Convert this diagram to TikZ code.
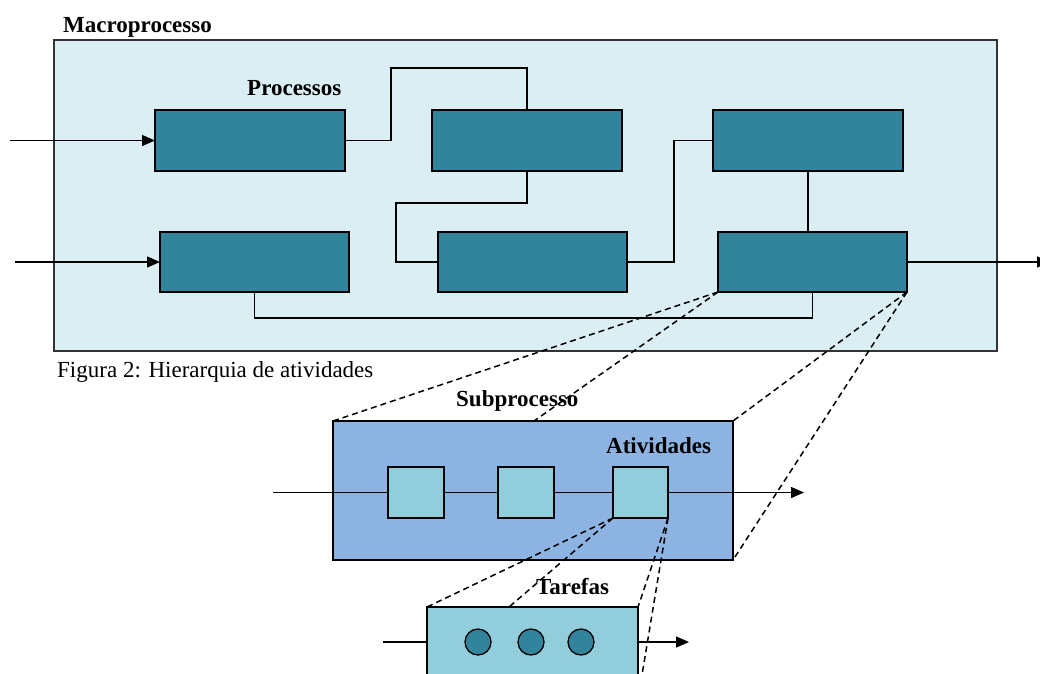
\documentclass[tikz,border=0pt]{standalone}
\usepackage{fontspec}
\setmainfont{Liberation Serif}
\usetikzlibrary{arrows.meta}
\definecolor{macrobg}{HTML}{DAEEF3}
\definecolor{procfill}{HTML}{31849B}
\definecolor{subbg}{HTML}{8DB3E2}
\definecolor{actbg}{HTML}{92CDDC}
\definecolor{frame}{HTML}{333333}
\begin{document}
\begin{tikzpicture}[x=1pt,y=-1pt,
  box/.style={draw=black, line width=1.5pt, inner sep=0pt, outer sep=0pt, anchor=north west},
  procbox/.style={box, fill=procfill},
  actbox/.style={box, fill=actbg, minimum height=51pt},
  task/.style={circle, draw=black, line width=1.3pt, fill=procfill, minimum size=26pt, inner sep=0pt},
  conn/.style={draw=black, line width=1.4pt},
  arr/.style={conn, -{Triangle[length=13pt,width=11pt]}},
  zoomline/.style={draw=black, line width=1.5pt, dash pattern=on 6pt off 4pt},
  lbl/.style={anchor=base west, inner sep=0pt, font=\fontsize{23}{27}\selectfont\bfseries},
  captxt/.style={anchor=base west, inner sep=0pt, font=\fontsize{23}{27}\selectfont}
]
\useasboundingbox (0,0) rectangle (1040,673);
\clip (0,0) rectangle (1040,673);
\fill[white] (0,0) rectangle (1040,673);

% Macroprocesso
\node[box, draw=frame, fill=macrobg, minimum width=943pt, minimum height=311pt] (macro) at (54,40) {};
\node[lbl] (tmacro) at (63,32) {Macroprocesso};
\node[lbl] (tproc) at (247,95) {Processos};
\node[captxt] (tfig) at (57,377) {Figura 2: Hierarquia de atividades};

\node[procbox, minimum width=190pt, minimum height=61pt] (A1) at (155,110) {};
\node[procbox, minimum width=190pt, minimum height=61pt] (A2) at (432,110) {};
\node[procbox, minimum width=190pt, minimum height=61pt] (A3) at (713,110) {};
\node[procbox, minimum width=189pt, minimum height=60pt] (B1) at (160,232) {};
\node[procbox, minimum width=189pt, minimum height=60pt] (B2) at (438,232) {};
\node[procbox, minimum width=189pt, minimum height=60pt] (B3) at (718,232) {};

\coordinate (in1) at (10,140.5);
\coordinate (in2) at (15,262);
\coordinate (out1) at (1050,262);

\draw[arr] (in1) -- (A1.west);
\draw[arr] (in2) -- (B1.west);
\draw[conn] (A1.east) -| (391,68) -| (A2.north);
\draw[conn] (A2.south) |- (396,203) |- (B2.west);
\draw[conn] (B2.east) -- ++(47,0) |- (A3.west);
\draw[conn] (A3.south) -- (A3.south |- B3.north);
\draw[conn] (B3.south) -- ++(0,26) -| (B1.south);
\draw[arr] (B3.east) -- (out1);

% Subprocesso
\node[box, fill=subbg, minimum width=400pt, minimum height=139pt] (sub) at (333,421) {};
\node[lbl] (tsub) at (456,406) {Subprocesso};
\node[lbl] (tact) at (606,453) {Atividades};
\node[actbox, minimum width=56pt] (act1) at (388,467) {};
\node[actbox, minimum width=56pt] (act2) at (498,467) {};
\node[actbox, minimum width=55pt] (act3) at (613,467) {};
\coordinate (sin) at (273,492.5);
\coordinate (sout) at (804,492.5);
\draw[conn] (sin) -- (act1.west);
\draw[conn] (act1.east) -- (act2.west);
\draw[conn] (act2.east) -- (act3.west);
\draw[arr] (act3.east) -- (sout);

% Tarefas
\node[box, fill=actbg, minimum width=211pt, minimum height=92pt] (tar) at (427,607) {};
\node[lbl] (ttar) at (536,594) {Tarefas};
\node[task] (c1) at (478,642) {};
\node[task] (c2) at (531,642) {};
\node[task] (c3) at (581,642) {};
\coordinate (tin) at (383,642);
\coordinate (tout) at (689,642);
\draw[conn] (tin) -- (tin -| tar.west);
\draw[arr] (tin -| tar.east) -- (tout);

% zoom lines
\coordinate (subm) at (534,421);
\coordinate (tarm) at (509,607);
\draw[zoomline] (B3.south west) -- (sub.north west);
\draw[zoomline] (B3.south west) -- (subm);
\draw[zoomline] (B3.south east) -- (sub.north east);
\draw[zoomline] (B3.south east) -- (sub.south east);
\draw[zoomline] (act3.south west) -- (tar.north west);
\draw[zoomline] (act3.south west) -- (tarm);
\draw[zoomline] (act3.south east) -- (tar.north east);
\draw[zoomline] (act3.south east) -- (tar.south east);
\end{tikzpicture}
\end{document}
